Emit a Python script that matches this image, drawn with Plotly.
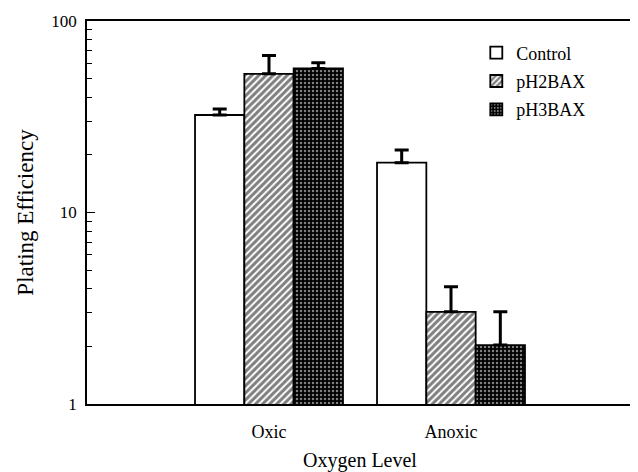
import plotly.graph_objects as go

categories = ["Oxic", "Anoxic"]
series_names = ["Control", "pH2BAX", "pH3BAX"]
control = [32.3, 18.2]
control_err = [2.4, 3.0]
ph2bax = [53.0, 3.03]
ph2bax_err = [13.0, 1.07]
ph3bax = [56.5, 2.03]
ph3bax_err = [4.0, 1.0]

xpos = list(range(len(categories)))
FONT = "Liberation Serif"

patterns = [
    dict(shape="", bgcolor="white"),
    dict(shape="/", fgcolor="black", bgcolor="white", size=5, solidity=0.6),
    dict(shape=".", fgcolor="white", bgcolor="black", size=4, solidity=0.3),
]

fig = go.Figure()
for i, (name, vals, errs) in enumerate(zip(series_names, [control, ph2bax, ph3bax],
                                            [control_err, ph2bax_err, ph3bax_err])):
    fig.add_trace(go.Bar(
        x=xpos, y=vals, name=name, legendgroup=name,
        marker=dict(color="white", line=dict(color="black", width=1.8), pattern=patterns[i]),
        error_y=dict(type="data", array=errs, symmetric=False, arrayminus=[0]*len(errs),
                     color="black", thickness=3, width=7),
    ))

# page body has an 8px margin, so the figure is sized 630x464 to fit the 638x472 window
fig.update_layout(
    width=630, height=464,
    margin=dict(l=79, r=5, t=13, b=68, autoexpand=False),
    paper_bgcolor="white", plot_bgcolor="white",
    barmode="group", bargap=0.187, bargroupgap=0,
    font=dict(family=FONT, size=17, color="black"),
    legend=dict(x=0.713, y=0.965, xanchor="left", yanchor="top",
                bgcolor="rgba(0,0,0,0)", font=dict(family=FONT, size=18),
                tracegroupgap=2, itemwidth=30),
    showlegend=True,
)
fig.update_xaxes(
    range=[-1, 2], tickmode="array", tickvals=xpos, ticktext=categories,
    showgrid=False, zeroline=False, showline=True, linecolor="black", linewidth=1.5,
    mirror=True, ticks="", ticklabelstandoff=11, automargin=False,
    title=dict(text="Oxygen Level", font=dict(family=FONT, size=20), standoff=12),
    tickfont=dict(family=FONT, size=18),
)
fig.update_yaxes(
    type="log", range=[0, 2], tickmode="array", tickvals=[1, 10, 100], ticktext=["1", "10", "100"],
    showgrid=False, zeroline=False, showline=True, linecolor="black", linewidth=1.5,
    mirror=True, ticks="inside", ticklen=8, tickwidth=1.2, tickcolor="black",
    ticklabelstandoff=5, automargin=False,
    minor=dict(ticks="inside", ticklen=5, tickwidth=1, tickcolor="black",
               tickvals=[2, 3, 4, 5, 6, 7, 8, 9, 20, 30, 40, 50, 60, 70, 80, 90]),
    title=dict(text="Plating Efficiency", font=dict(family=FONT, size=23), standoff=11),
    tickfont=dict(family=FONT, size=17),
)

fig.write_html("out.html")
